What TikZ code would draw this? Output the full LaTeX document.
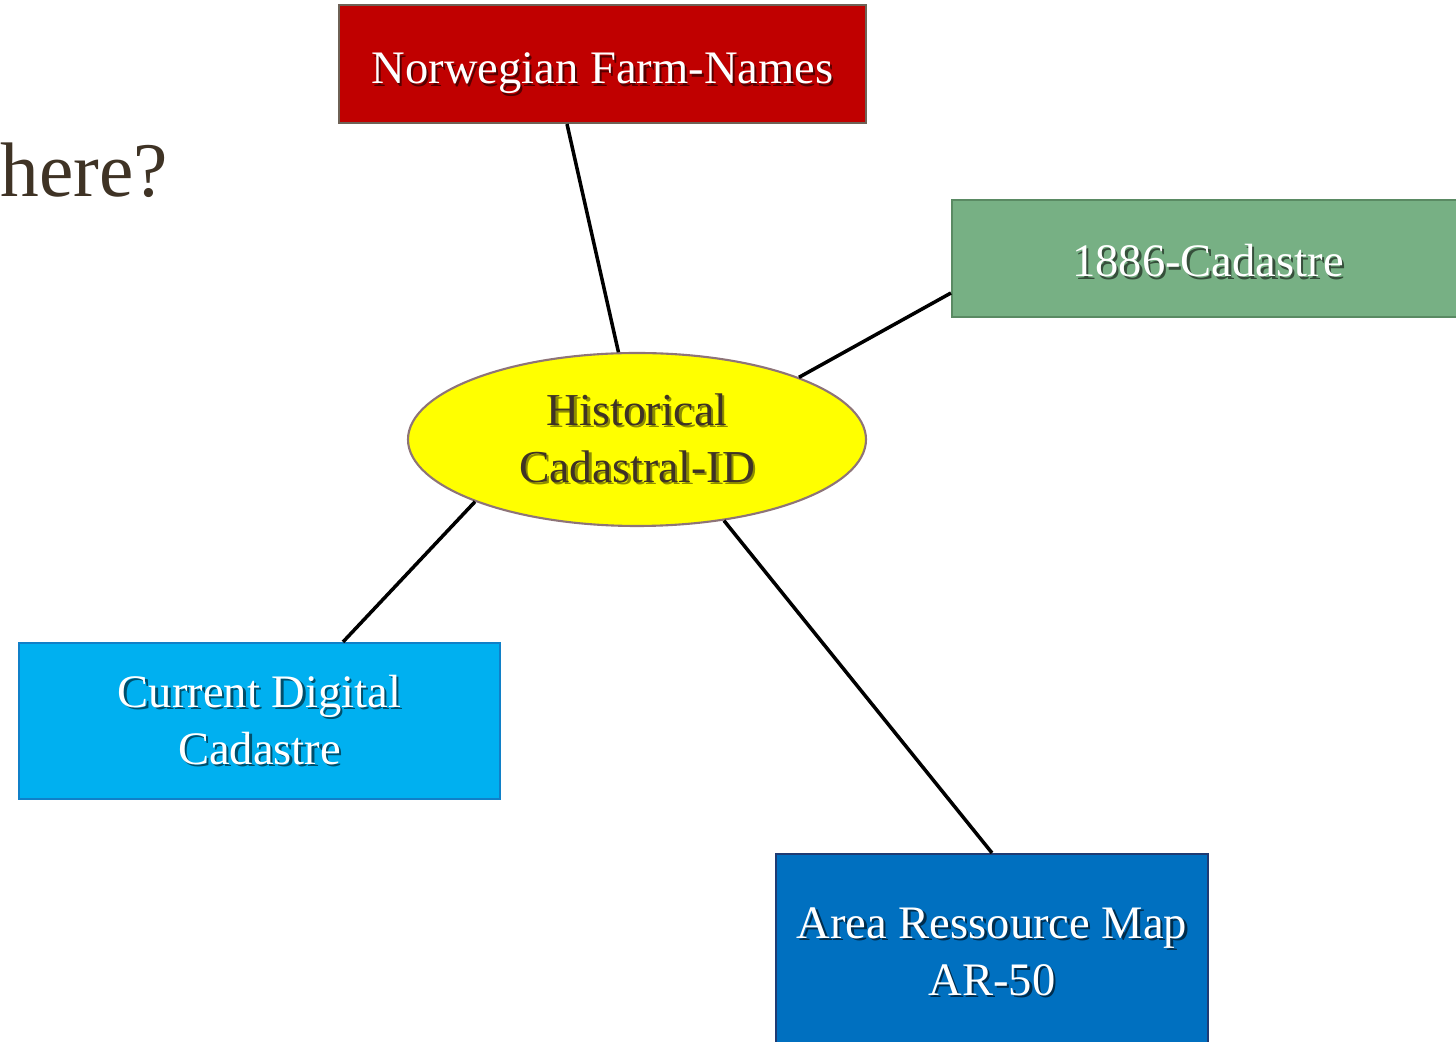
\documentclass[tikz,border=0pt]{standalone}
\usepackage{fontspec, xcolor}
\setmainfont{Liberation Serif}
\usetikzlibrary{calc, shapes.geometric}

\definecolor{farmred}{HTML}{C00000}
\definecolor{farmedge}{HTML}{6E6256}
\definecolor{cadgreen}{HTML}{77B084}
\definecolor{cadedge}{HTML}{5A8A63}
\definecolor{curcyan}{HTML}{00B0F0}
\definecolor{curedge}{HTML}{1080C8}
\definecolor{armblue}{HTML}{0070C0}
\definecolor{armedge}{HTML}{1F3B73}
\definecolor{histedge}{HTML}{8E7478}
\definecolor{histyellow}{HTML}{FFFF00}
\definecolor{darktext}{HTML}{3F3325}

\newcommand{\shcol}{black}
\newcommand{\shline}[1]{\makebox[0pt][l]{\hspace{1.3pt}\raisebox{-1.3pt}{\textcolor{\shcol}{#1}}}#1}

\tikzset{
  box/.style={rectangle, draw, line width=1.2pt, align=center, text=white,
    font=\fontsize{26.5}{32.4}\selectfont, inner sep=0pt},
  oval/.style={ellipse, draw=histedge, fill=histyellow, line width=1.2pt, align=center,
    text=darktext, font=\fontsize{26}{32.4}\selectfont, inner sep=0pt,
    minimum width=9.16cm, minimum height=3.46cm,
    execute at begin node=\renewcommand{\shcol}{histyellow!55!black}},
  link/.style={line width=2pt, black}
}

\begin{document}
\begin{tikzpicture}
\clip (0,0) rectangle (29.12,20.84);

\node[anchor=base west, inner sep=0pt, text=darktext, font=\fontsize{44}{50}\selectfont] (where) at (0,16.9) {here?};

\node[box, fill=farmred, draw=farmedge, minimum width=10.54cm, minimum height=2.36cm,
  text height=1cm, text depth=0.2cm,
  execute at begin node=\renewcommand{\shcol}{farmred!45!black}] (farm) at (12.05,19.56) {\shline{Norwegian Farm-Names}};
\node[box, fill=cadgreen, draw=cadedge, minimum width=10.24cm, minimum height=2.34cm,
  text height=0.74cm, text depth=0cm,
  execute at begin node=\renewcommand{\shcol}{cadgreen!45!black}] (cad) at (24.16,15.67) {\shline{1886-Cadastre}};
\node[oval] (hist) at (12.74,12.05) {\shline{Historical}\\\shline{Cadastral-ID}};
\node[box, fill=curcyan, draw=curedge, minimum width=9.62cm, minimum height=3.12cm,
  execute at begin node=\renewcommand{\shcol}{curcyan!45!black}] (cur) at (5.19,6.42) {\shline{Current Digital}\\\shline{Cadastre}};
\node[box, fill=armblue, draw=armedge, minimum width=8.64cm, minimum height=3.96cm,
  execute at begin node=\renewcommand{\shcol}{armblue!40!black}] (arm) at (19.84,1.78) {\shline{Area Ressource Map}\\\shline{AR-50}};

\draw[link] ($(farm.south)+(-0.71,0)$) -- (hist.102);
\draw[link] ($(cad.west)+(0,-0.69)$) -- (hist.21);
\draw[link] ($(cur.north)+(1.67,0)$) -- (hist.201);
\draw[link] (arm.north) -- (hist.317);
\end{tikzpicture}
\end{document}
